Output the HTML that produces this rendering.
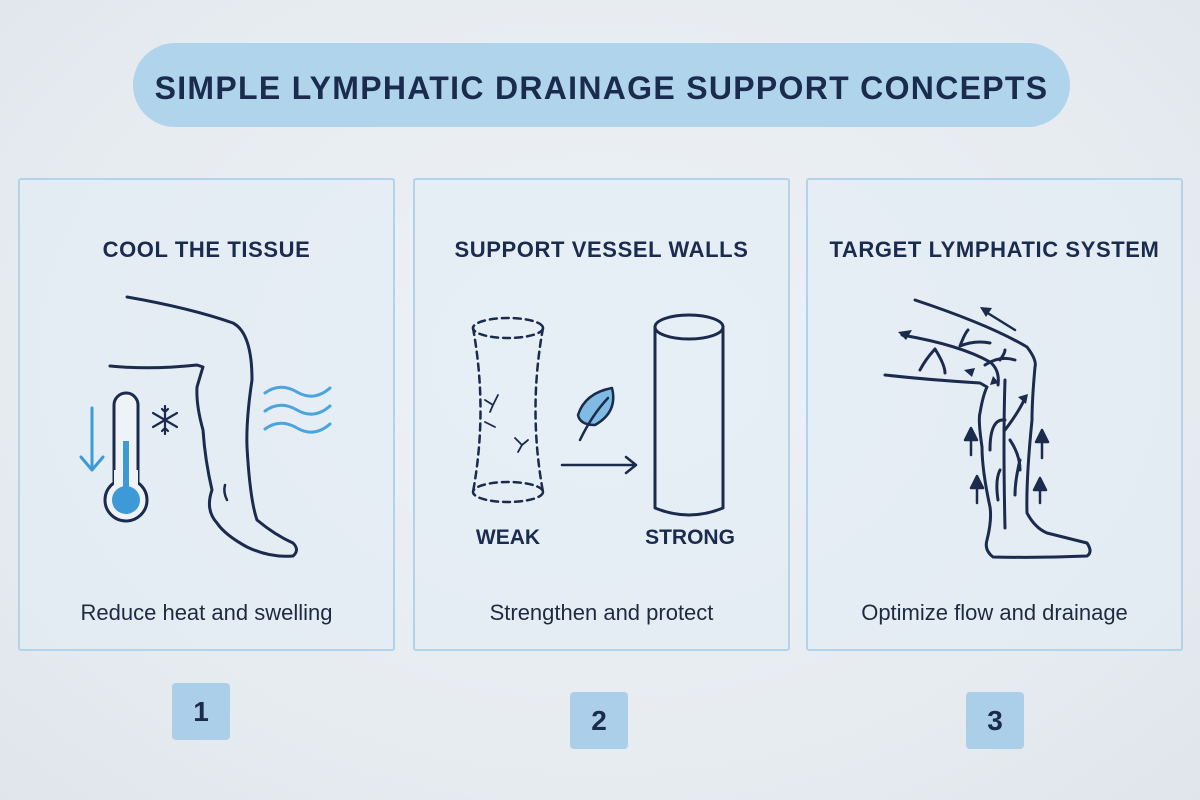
<!DOCTYPE html>
<html><head><style>
body{margin:0;width:1200px;height:800px;overflow:hidden;background:radial-gradient(ellipse at 50% 45%,#eef2f6 0%,#e6ebf0 70%,#dfe5eb 100%);font-family:"Liberation Sans",sans-serif;position:relative}
.pill{position:absolute;left:133px;top:43px;width:937px;height:84px;border-radius:42px;background:#afd4ec;color:#1b2b4d;font-weight:bold;font-size:32px;letter-spacing:1.3px;text-align:center;line-height:90px}
.panel{position:absolute;top:178px;width:373px;height:469px;border:2px solid #b3d3ea;background:rgba(225,237,246,0.55);border-radius:3px}
.h{position:absolute;top:57px;width:100%;text-align:center;font-weight:bold;font-size:22px;letter-spacing:0.6px;color:#1b2b4d}
.c{position:absolute;top:420px;width:100%;text-align:center;font-size:22px;color:#1e2a3f}
.num{position:absolute;width:58px;height:57px;background:#abcfe8;border-radius:4px;color:#1b2b4d;font-weight:bold;font-size:28px;text-align:center;line-height:58px}
svg{position:absolute;left:0;top:0}
</style></head><body>
<div class="pill">SIMPLE LYMPHATIC DRAINAGE SUPPORT CONCEPTS</div>
<div class="panel" style="left:18px"><div class="h">COOL THE TISSUE</div><div class="c">Reduce heat and swelling</div></div>
<div class="panel" style="left:413px"><div class="h">SUPPORT VESSEL WALLS</div><div class="c">Strengthen and protect</div></div>
<div class="panel" style="left:806px"><div class="h">TARGET LYMPHATIC SYSTEM</div><div class="c">Optimize flow and drainage</div></div>
<div class="num" style="left:172px;top:683px">1</div>
<div class="num" style="left:570px;top:692px">2</div>
<div class="num" style="left:966px;top:692px">3</div>
<svg width="1200" height="800" fill="none" stroke-linecap="round" stroke-linejoin="round">
<path d="M127 297 Q190 308 233 323 Q252 333 252 380 Q246 420 247 447 Q250 500 257 520 Q275 535 293 543 Q300 550 293 556 Q270 558 247 547 Q225 535 217 523 Q205 510 212 490 Q205 460 203 430 Q196 405 197 387 Q202 370 203 367 L197 365 Q150 370 110 366" stroke="#1b2b4d" stroke-width="3"/>
<path d="M225 485 Q223 492 227 500" stroke="#1b2b4d" stroke-width="2.5"/>
<rect x="114" y="393" width="24" height="100" rx="12" stroke="#1b2b4d" stroke-width="3" fill="#eef3f7"/>
<circle cx="126" cy="500" r="21" stroke="#1b2b4d" stroke-width="3" fill="#eef3f7"/>
<rect x="114" y="470" width="24" height="20" fill="#eef3f7"/>
<rect x="123" y="441" width="6" height="50" fill="#3d9ad6"/>
<circle cx="126" cy="500" r="14" fill="#3d9ad6"/>
<path d="M92 408 V470 M81 457 L92 470 L103 457" stroke="#3d9ad6" stroke-width="3"/>
<g stroke="#1b2b4d" stroke-width="2.2" transform="translate(165,420)"><path d="M0-14V14M-12-7L12 7M-12 7L12-7M-3-11L0-8L3-11M-3 11L0 8L3 11"/></g>
<g stroke="#4ba4dc" stroke-width="3"><path d="M265 393 Q280 382 297 392 T330 388"/><path d="M265 411 Q280 400 297 410 T330 406"/><path d="M265 429 Q280 418 297 428 T330 424"/></g>
<g stroke="#1b2b4d" stroke-width="2.5" stroke-dasharray="7 5">
<ellipse cx="508" cy="328" rx="35" ry="10"/><ellipse cx="508" cy="492" rx="35" ry="10"/>
<path d="M473 328 Q488 410 473 492 M543 328 Q528 410 543 492"/></g>
<g stroke="#1b2b4d" stroke-width="1.8"><path d="M485 400 L493 405 L490 412 M498 395 L493 405"/><path d="M515 438 L522 445 L518 452 M528 440 L522 445"/><path d="M485 422 L495 427"/></g>
<ellipse cx="689" cy="327" rx="34" ry="12" stroke="#1b2b4d" stroke-width="3"/>
<path d="M655 327 V508 Q689 522 723 508 V327" stroke="#1b2b4d" stroke-width="3"/>
<path d="M562 465 H636 M626 457 L636 465 L626 473" stroke="#1b2b4d" stroke-width="2.5"/>
<path d="M578 415 Q585 393 612 388 Q618 412 595 425 Q580 425 578 415Z" stroke="#1b2b4d" stroke-width="2.5" fill="#7fbbe3"/>
<path d="M580 440 Q592 415 608 398" stroke="#1b2b4d" stroke-width="2.5"/>
<text x="508" y="544" text-anchor="middle" font-family="Liberation Sans" font-weight="bold" font-size="21" fill="#1b2b4d" stroke="none">WEAK</text>
<text x="690" y="544" text-anchor="middle" font-family="Liberation Sans" font-weight="bold" font-size="21" fill="#1b2b4d" stroke="none">STRONG</text>
<g stroke="#1b2b4d" stroke-width="3">
<path d="M915 300 Q990 325 1027 347 Q1037 360 1035 367 Q1032 400 1032 420 Q1026 480 1027 513 Q1035 528 1047 533 Q1075 540 1087 543 Q1093 552 1087 556 Q1040 558 993 557 Q984 550 987 540 Q992 520 990 507 Q982 470 982 447 Q978 420 980 413 Q983 395 987 387 L980 383 Q930 380 885 375"/>
<path d="M902 335 Q960 345 990 362 Q1000 370 998 385"/>
<path d="M935 349 Q925 360 920 370 M935 349 Q945 365 945 373 M960 346 Q965 333 968 330 M960 346 Q975 340 990 343 M985 365 Q1000 355 1015 360 M1000 360 Q1005 353 1005 350"/>
<path d="M1005 380 Q1003 440 1005 528 M1005 420 Q990 418 990 450 M1005 430 Q1020 410 1025 398 M1010 440 Q1020 455 1020 470 M1000 470 Q995 480 998 500 M1020 460 Q1015 480 1015 495"/>
<path d="M1015 330 L986 312" stroke-width="2.5"/>
</g>
<g fill="#1b2b4d" stroke="none">
<path d="M980 307 L992 308 L986 317Z"/><path d="M898 332 L912 330 L906 340Z"/><path d="M964 370 L975 368 L972 377Z"/>
<path d="M993 376 L999 383 L990 385Z"/><path d="M1018 397 L1028 394 L1026 404Z"/>
</g>
<g stroke="#1b2b4d" stroke-width="2.5">
<path d="M971 455 V430 M965 440 L971 428 L977 440 Z" fill="#1b2b4d"/><path d="M977 503 V478 M971 488 L977 476 L983 488 Z" fill="#1b2b4d"/>
<path d="M1042 458 V430 M1036 442 L1042 430 L1048 442 Z" fill="#1b2b4d"/><path d="M1040 503 V478 M1034 490 L1040 478 L1046 490 Z" fill="#1b2b4d"/>
</g>
</svg>
</body></html>
